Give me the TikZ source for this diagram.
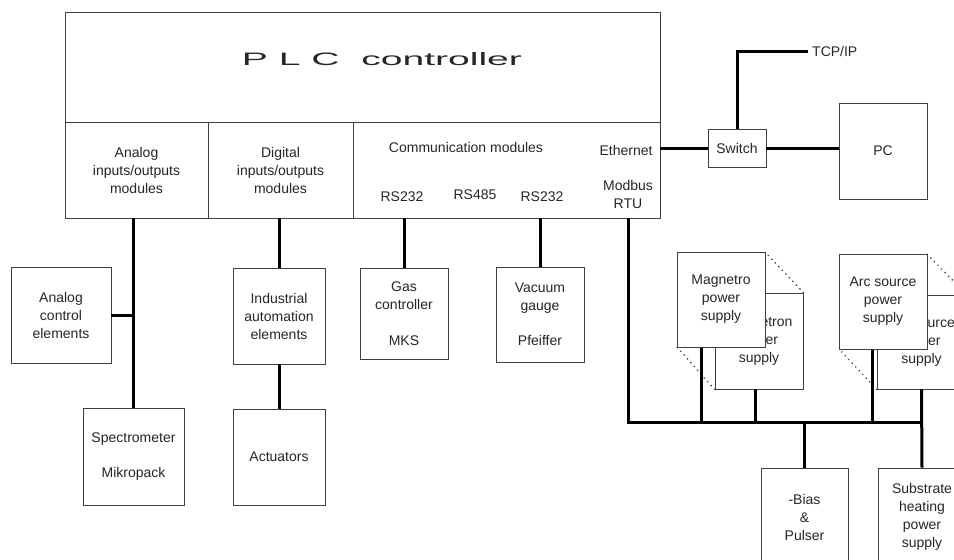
\documentclass[tikz,border=0pt]{standalone}
\usepackage{fontspec}
\setmainfont{Liberation Sans}
\usetikzlibrary{calc}
\begin{document}
\begin{tikzpicture}[x=1pt,y=-1pt,
  box/.style={draw=black!75, line width=0.9pt, fill=white, align=center, inner sep=0pt,
              text=black!85, font=\fontsize{14}{18}\selectfont},
  lbl/.style={inner sep=0pt, align=center, text=black!85, font=\fontsize{14}{18}\selectfont},
  conn/.style={line width=3pt, black},
  dots/.style={black!75, line width=1.8pt, dash pattern=on 0.1pt off 5pt, line cap=round}]
\useasboundingbox (0,0) rectangle (954,560);
\clip (0,0) rectangle (954,560);

% PLC controller
\node[box, minimum width=595pt, minimum height=110pt] (plctop) at (362.5,67) {};
\node[box, minimum width=143pt, minimum height=96pt] (analog) at (136.5,170) {Analog\\inputs/outputs\\modules};
\node[box, minimum width=145pt, minimum height=96pt] (digital) at (280.5,170) {Digital\\inputs/outputs\\modules};
\node[box, minimum width=307pt, minimum height=96pt] (comm) at (506.5,170) {};
\node[lbl] (title) at (382,59) {\scalebox{2.17}[1]{\fontsize{18}{20}\selectfont P L C\ \ controller}};
\node[lbl] (commlbl) at (466,147) {Communication modules};
\node[lbl] (rsa) at (402,197) {RS232};
\node[lbl] (rsb) at (475,195) {RS485};
\node[lbl] (rsc) at (542,197) {RS232};
\node[lbl] (eth) at (626,150) {Ethernet};
\node[lbl] (modbus) at (628,194) {Modbus\\RTU};

% left column
\node[box, minimum width=100pt, minimum height=96pt] (analogctl) at (61,315) {Analog\\control\\elements};
\node[box, minimum width=101pt, minimum height=97pt] (spectro) at (133.5,456.5) {Spectrometer\\[17pt]Mikropack};
\node[box, minimum width=92pt, minimum height=96pt] (industrial) at (279,316) {Industrial\\automation\\elements};
\node[box, minimum width=92pt, minimum height=96pt] (actuators) at (279,457) {Actuators};
\node[box, minimum width=88pt, minimum height=91pt] (gas) at (404,313.5) {Gas\\controller\\[18pt]MKS};
\node[box, minimum width=88pt, minimum height=95pt] (vacuum) at (540,314.5) {Vacuum\\gauge\\[17pt]Pfeiffer};

% network
\node[box, minimum width=58pt, minimum height=38pt] (switch) at (737,148) {Switch};
\node[box, minimum width=88pt, minimum height=96pt] (pc) at (883,151) {PC};
\node[lbl, anchor=west, inner xsep=4pt] (tcp) at (808,51) {TCP/IP};

% power supplies
\node[box, minimum width=88pt, minimum height=96pt] (magback) at (759,341) {Magnetron\\power\\supply};
\node[box, minimum width=89pt, minimum height=94pt] (arcback) at (921.5,342) {Arc source\\power\\supply};
\draw[dots] (magback.north east) -- (721+44,252);
\draw[dots] (magback.south west) -- (721-44,347);
\draw[dots] (arcback.north east) -- (883+44,254);
\draw[dots] (arcback.south west) -- (883-44,349);
\node[box, minimum width=88pt, minimum height=95pt] (magfront) at (721,299.5) {Magnetro\\power\\supply};
\node[box, minimum width=88pt, minimum height=95pt] (arcfront) at (883,301.5) {Arc source\\power\\supply};
\node[box, minimum width=87pt, minimum height=98pt] (bias) at (804.5,517) {-Bias\\\&\\Pulser};
\node[box, minimum width=88pt, minimum height=98pt] (substrate) at (922,517) {Substrate\\heating\\power\\supply};

% connectors
\coordinate (mb) at (628,218);
\coordinate (busL) at (628,422);
\coordinate (busR) at (921.5,422);
\coordinate (mfo) at (701,347.5);
\coordinate (mbo) at (755,389);
\coordinate (afo) at (872,349.5);

\draw[conn] (analog.south -| spectro.north) -- (spectro.north);
\draw[conn] (analogctl.east) -- (analogctl.east -| spectro.north);
\draw[conn] (digital.south -| industrial.north) -- (industrial.north);
\draw[conn] (industrial.south) -- (actuators.north);
\draw[conn] (comm.south -| gas.north) -- (gas.north);
\draw[conn] (comm.south -| vacuum.north) -- (vacuum.north);
\draw[conn] (switch.west -| comm.east) -- (switch.west);
\draw[conn] (switch.east) -- (switch.east -| pc.west);
\draw[conn] (switch.north) |- (tcp.west);
\draw[conn] (mb) -- (busL) -- (busR);
\draw[conn] (mfo) -- (mfo |- busL);
\draw[conn] (mbo) -- (mbo |- busL);
\draw[conn] (afo) -- (afo |- busL);
\draw[conn] (arcback.south) -- (substrate.north);
\draw[conn] (bias.north) -- (bias.north |- busL);
\end{tikzpicture}
\end{document}
